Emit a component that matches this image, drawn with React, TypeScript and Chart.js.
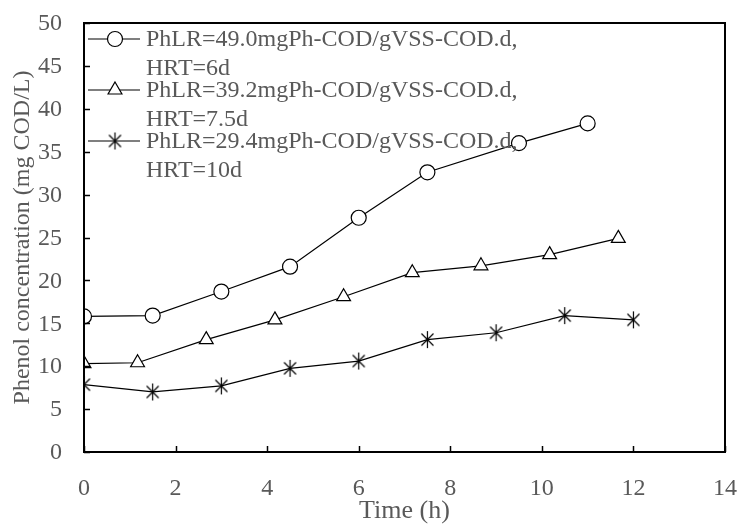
import React, { useEffect, useRef } from "react";
import { Chart, registerables } from "chart.js";

Chart.register(...registerables);

const circleX = [0, 1.5, 3, 4.5, 6, 7.5, 9.5, 11];
const circleY = [15.8, 15.9, 18.7, 21.6, 27.3, 32.6, 36.0, 38.3];
const triX = [0, 1.17, 2.67, 4.17, 5.67, 7.17, 8.67, 10.17, 11.67];
const triY = [10.3, 10.4, 13.1, 15.4, 18.1, 20.9, 21.7, 23.0, 24.9];
const starX = [0, 1.5, 3, 4.5, 6, 7.5, 9, 10.5, 12];
const starY = [7.85, 7.0, 7.7, 9.75, 10.6, 13.1, 13.9, 15.9, 15.4];

const legendLabels = [
  ["PhLR=49.0mgPh-COD/gVSS-COD.d,", "HRT=6d"],
  ["PhLR=39.2mgPh-COD/gVSS-COD.d,", "HRT=7.5d"],
  ["PhLR=29.4mgPh-COD/gVSS-COD.d,", "HRT=10d"],
];
const xTitle = "Time (h)";
const yTitle = "Phenol concentration (mg COD/L)";

const GREY = "#595959";
const FONT = "'Liberation Serif', 'Times New Roman', serif";

function makeStar(): HTMLCanvasElement {
  const c = document.createElement("canvas");
  c.width = 19;
  c.height = 19;
  const g = c.getContext("2d")!;
  g.strokeStyle = "#000";
  g.lineWidth = 1.2;
  const cx = 9.5, cy = 9.5, r = 8.5;
  g.beginPath();
  g.moveTo(cx, cy - r);
  g.lineTo(cx, cy + r);
  const a = Math.PI / 4;
  g.moveTo(cx - r * Math.cos(a), cy - r * Math.sin(a));
  g.lineTo(cx + r * Math.cos(a), cy + r * Math.sin(a));
  g.moveTo(cx + r * Math.cos(a), cy - r * Math.sin(a));
  g.lineTo(cx - r * Math.cos(a), cy + r * Math.sin(a));
  g.stroke();
  return c;
}

function drawMarker(ctx: CanvasRenderingContext2D, style: any, x: number, y: number, r: number) {
  if (style instanceof HTMLCanvasElement) {
    ctx.drawImage(style, x - style.width / 2, y - style.height / 2);
    return;
  }
  ctx.beginPath();
  if (style === "circle") {
    ctx.arc(x, y, r, 0, Math.PI * 2);
  } else if (style === "triangle") {
    const h = r * 1.5;
    const w = r * Math.sqrt(3);
    ctx.moveTo(x, y - r);
    ctx.lineTo(x + w / 2, y - r + h);
    ctx.lineTo(x - w / 2, y - r + h);
    ctx.closePath();
  }
  ctx.fill();
  ctx.stroke();
}

const framePlugin = {
  id: "frame",
  afterDatasetsDraw(chart: any) {
    const { ctx, chartArea: a, scales } = chart;
    ctx.save();
    ctx.strokeStyle = "#000";
    ctx.lineWidth = 1.5;
    const xs = scales.x, ys = scales.y;
    ctx.beginPath();
    xs.ticks.forEach((t: any) => {
      const px = Math.round(xs.getPixelForValue(t.value)) + 0.5;
      ctx.moveTo(px, a.bottom);
      ctx.lineTo(px, a.bottom - 6);
    });
    ys.ticks.forEach((t: any) => {
      const py = Math.round(ys.getPixelForValue(t.value)) + 0.5;
      ctx.moveTo(a.left, py);
      ctx.lineTo(a.left + 6, py);
    });
    ctx.stroke();
    ctx.lineWidth = 2;
    ctx.strokeRect(a.left, a.top, a.right - a.left, a.bottom - a.top);

    ctx.fillStyle = GREY;
    ctx.font = `24px ${FONT}`;
    ctx.textBaseline = "middle";
    ctx.textAlign = "center";
    xs.ticks.forEach((t: any) => {
      ctx.fillText(String(t.value), xs.getPixelForValue(t.value), a.bottom + 37);
    });
    ctx.textAlign = "right";
    ys.ticks.forEach((t: any) => {
      ctx.fillText(String(t.value), a.left - 22, ys.getPixelForValue(t.value) + 1);
    });
    ctx.restore();
  },
  afterDraw(chart: any) {
    const { ctx, chartArea: a } = chart;
    ctx.save();
    ctx.font = `24px ${FONT}`;
    ctx.textBaseline = "middle";
    chart.data.datasets.forEach((ds: any, i: number) => {
      const y0 = a.top + 16 + i * 51;
      ctx.strokeStyle = "#000";
      ctx.lineWidth = 1.2;
      ctx.beginPath();
      ctx.moveTo(a.left + 4, y0);
      ctx.lineTo(a.left + 56, y0);
      ctx.stroke();
      ctx.fillStyle = "#fff";
      drawMarker(ctx, ds.pointStyle, a.left + 31, y0, ds.pointRadius);
      ctx.fillStyle = GREY;
      legendLabels[i].forEach((ln: string, j: number) => {
        ctx.fillText(ln, a.left + 62, y0 + 1 + j * 29);
      });
    });
    ctx.restore();
  },
};

export default function App() {
  const ref = useRef<HTMLCanvasElement>(null);
  useEffect(() => {
    document.body.style.margin = "0";
    const star = makeStar();
    const toPts = (xs: number[], ys: number[]) => xs.map((x, i) => ({ x, y: ys[i] }));
    const common = {
      borderColor: "#000",
      borderWidth: 1.2,
      backgroundColor: "#fff",
      pointBorderColor: "#000",
      pointBackgroundColor: "#fff",
      pointBorderWidth: 1.2,
      showLine: true,
      tension: 0,
    };
    const chart = new Chart(ref.current!, {
      type: "scatter",
      data: {
        datasets: [
          { ...common, label: legendLabels[0].join(" "), data: toPts(circleX, circleY), pointStyle: "circle", pointRadius: 7.5 },
          { ...common, label: legendLabels[1].join(" "), data: toPts(triX, triY), pointStyle: "triangle", pointRadius: 8 },
          { ...common, label: legendLabels[2].join(" "), data: toPts(starX, starY), pointStyle: star as any, pointRadius: 8 },
        ],
      } as any,
      options: {
        animation: false,
        responsive: false,
        layout: { padding: { top: 23, right: 17, left: 8, bottom: 0 } },
        plugins: { legend: { display: false }, tooltip: { enabled: false } },
        scales: {
          x: {
            type: "linear",
            min: 0,
            max: 14,
            ticks: { stepSize: 2, display: false },
            grid: { display: false, drawTicks: false },
            border: { display: false },
            title: { display: true, text: xTitle, color: GREY, font: { family: FONT, size: 26 }, padding: { top: 0, bottom: 0 } },
            afterFit: (s: any) => { s.height = 75; },
          },
          y: {
            type: "linear",
            min: 0,
            max: 50,
            ticks: { stepSize: 5, display: false },
            grid: { display: false, drawTicks: false },
            border: { display: false },
            title: { display: true, text: yTitle, color: GREY, font: { family: FONT, size: 24 }, padding: { top: 0, bottom: 0 } },
            afterFit: (s: any) => { s.width = 76; },
          },
        },
      },
      plugins: [framePlugin],
    });
    return () => chart.destroy();
  }, []);
  return <canvas ref={ref} width={742} height={527} style={{ display: "block" }} />;
}
